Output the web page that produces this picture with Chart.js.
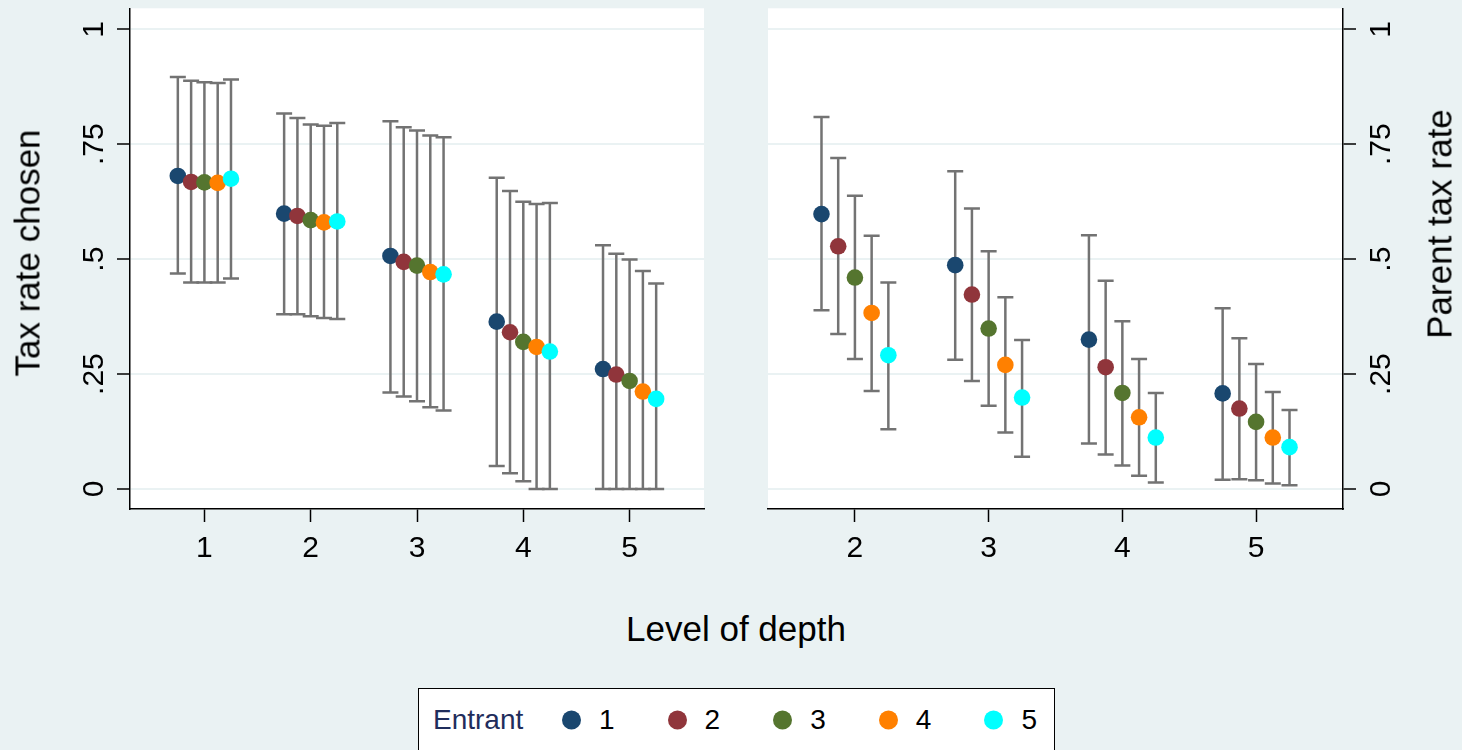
<!DOCTYPE html>
<html>
<head>
<meta charset="utf-8">
<script src="https://cdn.jsdelivr.net/npm/chart.js@4.4.1/dist/chart.umd.min.js"></script>
<style>
  html, body { margin: 0; padding: 0; }
  body {
    width: 1462px; height: 750px; overflow: hidden; position: relative;
    background: #eaf2f3;
    font-family: "Liberation Sans", Arial, sans-serif;
  }
  canvas { position: absolute; top: 0; }
  #left { left: 0; }
  #right { left: 740px; }
  .ytitle {
    position: absolute; font-size: 35px; line-height: 1; white-space: nowrap; color: #000;
    transform: translate(-50%, -50%) rotate(-90deg);
  }
  #xtitle {
    position: absolute; left: 736px; top: 628px; font-size: 35px; line-height: 1;
    transform: translate(-50%, -50%); white-space: nowrap; color: #000;
  }
  #legend {
    position: absolute; left: 418px; top: 688px; width: 637px; height: 80px;
    box-sizing: border-box; border: 1.5px solid #000; background: #fff;
  }
  #legend span { position: absolute; top: 31px; font-size: 28px; line-height: 1; transform: translateY(-50%); }
  #legend .dot { width: 19px; height: 19px; border-radius: 50%; }
</style>
</head>
<body>
<canvas id="left" width="730" height="580"></canvas>
<canvas id="right" width="722" height="580"></canvas>
<div class="ytitle" style="left:27px; top:253px;">Tax rate chosen</div>
<div class="ytitle" style="left:1439px; top:224px;">Parent tax rate</div>
<div id="xtitle">Level of depth</div>
<div id="legend"></div>
<script>
// entrants (series) and colours
const entrants = ['1', '2', '3', '4', '5'];
const colors = ['#1a476f', '#90353b', '#55752f', '#ff8000', '#00ffff'];

// y axis ticks (shared)
const yTicks = [0, 0.25, 0.5, 0.75, 1];
const yTickLabels = ['0', '.25', '.5', '.75', '1'];

// left panel: tax rate chosen, levels 1-5
const levelsLeft = [1, 2, 3, 4, 5];
const meanLeft = [
  [0.681, 0.599, 0.507, 0.364, 0.261],
  [0.668, 0.594, 0.494, 0.341, 0.249],
  [0.667, 0.585, 0.486, 0.320, 0.235],
  [0.666, 0.580, 0.472, 0.309, 0.212],
  [0.675, 0.582, 0.467, 0.299, 0.196]
];
const hiLeft = [
  [0.896, 0.817, 0.800, 0.677, 0.530],
  [0.888, 0.807, 0.787, 0.648, 0.512],
  [0.885, 0.793, 0.780, 0.625, 0.499],
  [0.883, 0.790, 0.769, 0.620, 0.474],
  [0.891, 0.796, 0.765, 0.622, 0.447]
];
const loLeft = [
  [0.469, 0.380, 0.210, 0.050, 0],
  [0.449, 0.380, 0.201, 0.034, 0],
  [0.449, 0.376, 0.191, 0.017, 0],
  [0.449, 0.372, 0.178, 0, 0],
  [0.458, 0.370, 0.171, 0, 0]
];

// right panel: parent tax rate, levels 2-5
const levelsRight = [2, 3, 4, 5];
const meanRight = [
  [0.598, 0.487, 0.325, 0.208],
  [0.528, 0.423, 0.265, 0.175],
  [0.460, 0.349, 0.209, 0.146],
  [0.383, 0.270, 0.156, 0.112],
  [0.291, 0.199, 0.112, 0.091]
];
const hiRight = [
  [0.809, 0.691, 0.552, 0.393],
  [0.720, 0.610, 0.453, 0.328],
  [0.638, 0.517, 0.365, 0.272],
  [0.551, 0.417, 0.283, 0.211],
  [0.449, 0.324, 0.209, 0.172]
];
const loRight = [
  [0.389, 0.281, 0.099, 0.020],
  [0.337, 0.235, 0.075, 0.021],
  [0.283, 0.181, 0.051, 0.019],
  [0.213, 0.123, 0.029, 0.012],
  [0.130, 0.070, 0.014, 0.008]
];

const FONT = '"Liberation Sans", Arial, sans-serif';

// white plot region
const plotBg = {
  id: 'plotBg',
  beforeDraw(chart) {
    const a = chart.chartArea;
    chart.ctx.save();
    chart.ctx.fillStyle = '#fff';
    chart.ctx.fillRect(a.left, a.top, a.right - a.left, a.bottom - a.top);
    chart.ctx.restore();
  }
};

// capped spikes from lo to hi
const errorBars = {
  id: 'errorBars',
  beforeDatasetsDraw(chart) {
    const { ctx, scales: { x, y } } = chart;
    ctx.save();
    ctx.strokeStyle = '#737373';
    ctx.lineWidth = 2.5;
    chart.data.datasets.forEach(ds => {
      ds.data.forEach(p => {
        const px = x.getPixelForValue(p.x);
        const top = y.getPixelForValue(p.hi);
        const bot = y.getPixelForValue(p.lo);
        ctx.beginPath();
        ctx.moveTo(px, top); ctx.lineTo(px, bot);
        ctx.moveTo(px - 8, top); ctx.lineTo(px + 8, top);
        ctx.moveTo(px - 8, bot); ctx.lineTo(px + 8, bot);
        ctx.stroke();
      });
    });
    ctx.restore();
  }
};

function makePanel(id, levels, mean, lo, hi, o) {
  const datasets = entrants.map((name, e) => ({
    label: name,
    data: levels.map((lv, i) => ({ x: lv + (e - 2) * 0.125, y: mean[e][i], lo: lo[e][i], hi: hi[e][i] })),
    backgroundColor: colors[e],
    borderWidth: 0,
    pointRadius: 8.3,
    order: entrants.length - e
  }));

  return new Chart(document.getElementById(id), {
    type: 'scatter',
    data: { datasets },
    plugins: [plotBg, errorBars],
    options: {
      responsive: false,
      animation: false,
      events: [],
      devicePixelRatio: 1,
      layout: { padding: o.padding },
      plugins: { legend: { display: false }, tooltip: { enabled: false } },
      scales: {
        x: {
          type: 'linear',
          min: o.xmin,
          max: o.xmax,
          afterBuildTicks: s => { s.ticks = levels.map(v => ({ value: v })); },
          afterFit: s => { s.height = 71; s.paddingLeft = 0; s.paddingRight = 0; },
          ticks: { color: '#000', font: { size: 30, family: FONT }, padding: 9, maxRotation: 0, autoSkip: false,
            callback: v => String(v) },
          grid: { drawOnChartArea: false, tickLength: 13, tickColor: '#000', tickWidth: 1.5 },
          border: { color: '#000', width: 1.5 }
        },
        y: {
          type: 'linear',
          position: o.ypos,
          min: -0.0435,
          max: 1.0457,
          afterBuildTicks: s => { s.ticks = yTicks.map(v => ({ value: v })); },
          afterFit: s => { s.width = o.ywidth; s.paddingTop = 0; s.paddingBottom = 0; },
          ticks: { color: '#000', font: { size: 30, family: FONT }, padding: o.ypad, minRotation: 90, maxRotation: 90,
            crossAlign: 'center', callback: (v, i) => yTickLabels[i] },
          grid: { color: '#eaf2f3', lineWidth: 2, tickColor: '#000', tickLength: 13, tickWidth: 1.5 },
          border: { color: '#000', width: 1.5 }
        }
      }
    }
  });
}

makePanel('left', levelsLeft, meanLeft, loLeft, hiLeft,
  { xmin: 0.3, xmax: 5.7, ypos: 'left', ywidth: 130, ypad: 1, padding: { top: 8, right: 26, left: 0, bottom: 0 } });
makePanel('right', levelsRight, meanRight, loRight, hiRight,
  { xmin: 1.35, xmax: 5.65, ypos: 'right', ywidth: 119, ypad: 5, padding: { top: 8, right: 0, left: 28, bottom: 0 } });

// legend
const legend = document.getElementById('legend');
const title = document.createElement('span');
title.textContent = 'Entrant';
title.style.left = '14px';
title.style.color = '#1f2d5c';
legend.appendChild(title);
entrants.forEach((name, e) => {
  const x0 = 143 + e * 105.6;
  const dot = document.createElement('span');
  dot.className = 'dot';
  dot.style.left = x0 + 'px';
  dot.style.background = colors[e];
  legend.appendChild(dot);
  const lab = document.createElement('span');
  lab.textContent = name;
  lab.style.left = (x0 + 37) + 'px';
  legend.appendChild(lab);
});
</script>
</body>
</html>
